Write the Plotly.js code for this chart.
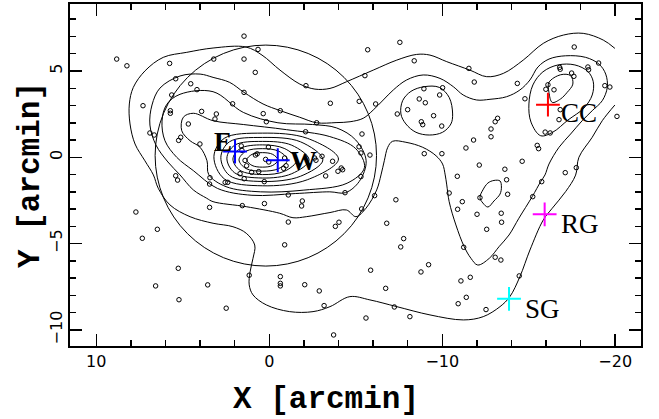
<!DOCTYPE html>
<html><head><meta charset="utf-8">
<script src="https://cdn.plot.ly/plotly-3.0.1.min.js"></script>
<style>html,body{margin:0;padding:0;background:#fff}</style>
</head><body>
<div id="chart" style="width:659px;height:419px"></div>
<script>
// galaxy positions [arcmin]
const galX = [8.82,8.23,5.76,5.41,4.54,4.18,5.64,7.30,5.72,5.72,3.91,4.68,6.90,6.65,5.12,5.24,4.01,5.41,5.30,3.43,3.45,7.71,6.47,7.34,3.45,5.26,6.57,3.56,5.22,2.49,1.16,-0.64,-0.64,-0.64,-2.05,-2.89,-3.17,1.56,0.28,-1.10,-0.89,-1.87,-1.91,2.55,2.40,0.29,-3.26,-1.10,-4.38,-4.03,-3.82,-3.72,
1.46,0.65,3.21,1.46,0.81,-2.12,1.46,-3.53,2.12,3.06,3.14,0.35,-0.64,0.17,-2.74,-2.10,
1.62,1.58,0.05,0.80,0.70,0.21,0.03,1.40,1.31,1.02,0.61,-0.89,-0.97,-0.83,-2.62,-2.70,-3.05,-3.66,-4.16,-4.24,-3.97,1.69,1.45,
-7.55,-5.69,-8.38,-5.53,-11.54,-11.85,-8.94,-10.02,-9.85,-8.67,-9.02,-8.00,-7.40,-9.50,-8.79,-8.87,-9.97,-5.20,-6.15,-5.36,-5.19,-5.30,-5.82,-8.96,-9.98,-12.82,-12.82,-11.81,-11.37,-12.14,-13.20,-13.06,
-17.63,-16.79,-16.82,-18.42,-18.46,-19.04,-17.48,-17.61,-14.34,-16.11,-15.99,-16.46,-19.40,-19.69,-14.78,-16.82,-16.75,-20.10,-15.95,-16.24,-15.49,-15.57,-14.62,-13.62,-17.75,-17.11,
-5.30,-10.87,-6.09,-5.34,-7.32,-10.40,-11.16,-10.89,-12.18,-12.01,-12.57,-6.79,-7.77,-7.60,-11.24,-13.06,-9.21,-8.77,-5.86,-11.08,-11.62,-6.73,-11.39,-10.92,-7.23,-5.59,-8.13,-12.53,-13.72,-13.78,-15.75,-15.23,-13.41,-13.43,-13.39,-14.45];
const galY = [5.69,5.30,5.44,4.55,4.26,3.92,3.61,2.99,2.70,2.55,2.66,1.93,1.41,1.29,1.16,0.98,0.77,-1.07,-1.32,-1.18,-1.55,-3.17,-4.17,-4.69,-2.90,-6.43,-7.45,-7.39,-8.25,-8.74,-6.83,-6.91,-7.30,-7.45,-7.38,-7.74,-8.59,-2.80,-2.68,-3.75,-5.07,-2.82,-2.53,-1.45,-1.45,-1.41,-1.08,-2.18,-2.05,-3.76,-4.00,-10.29,
7.02,6.25,5.69,5.69,4.92,4.15,3.76,3.13,3.10,2.51,2.22,2.53,2.70,2.06,2.00,1.48,
0.66,0.40,0.59,0.13,0.20,-0.12,-0.27,-0.18,-0.49,-0.87,-0.83,-0.04,-0.49,-0.64,-0.04,-0.17,0.06,-0.23,-0.62,-0.72,-0.81,-0.95,-1.24,
6.66,6.23,5.59,4.73,5.15,4.36,3.97,4.03,3.61,3.38,3.16,2.76,2.51,2.41,2.06,1.89,1.81,3.24,3.09,1.35,0.61,0.25,0.13,0.21,0.21,1.64,1.19,1.00,0.54,-0.45,2.26,2.06,
6.39,5.21,5.10,5.23,5.07,5.46,4.88,4.69,4.28,4.20,3.94,3.91,4.15,4.07,3.39,2.76,2.18,2.37,1.46,1.41,0.69,0.50,-0.23,-0.69,-0.60,-0.89,
-1.12,-1.10,-2.22,-2.99,-2.46,-2.07,-2.57,-3.01,-2.34,-3.30,-4.17,-3.82,-4.71,-5.19,-5.21,-5.79,-6.22,-6.64,-6.54,-7.16,-6.95,-7.59,-8.11,-8.48,-8.67,-9.31,-9.23,-8.82,-1.30,-2.14,-1.41,-2.28,-3.24,-3.76,-5.95,-6.87];

// marked positions
const markNames = ['E','W','CC','RG','SG'];
const markX = [1.98,-0.49,-16.11,-15.92,-13.86];
const markY = [0.33,-0.17,3.05,-3.30,-8.20];
const markColors = ['#0000ff','#0000ff','#ff0000','#ff00ff','#00ffff'];
const labelX = [2.69,-2.00,-17.90,-17.96,-15.78];
const labelY = [0.89,-0.19,2.57,-3.86,-8.78];

// circle
const circleCenter = [0.2, 0.1];
const circleRadius = 6.4;

// contour paths [x, y] in arcmin
const cOuter = [[-19.98,6.31],[-19.31,6.79],[-18.15,7.18],[-17.0,7.08],[-15.84,6.60],[-14.68,5.63],[-13.53,4.86],[-12.57,4.67],[-11.60,5.05],[-10.26,5.54],[-9.29,5.92],[-8.52,5.96],[-7.37,5.63],[-6.01,5.05],[-4.47,4.38],[-3.51,3.99],[-2.64,3.95],[-1.77,4.24],[-0.62,5.05],[0.42,5.92],[1.35,6.39],[3.25,6.33],[4.77,6.08],[6.13,5.79],[7.18,5.01],[7.86,4.05],[8.09,3.09],[8.05,1.93],[7.76,0.77],[7.19,-0.20],[6.70,-1.02],[6.42,-1.79],[5.74,-2.76],[4.58,-3.44],[3.25,-3.82],[2.10,-4.02],[1.33,-4.40],[0.84,-5.08],[0.94,-5.85],[1.11,-6.64],[1.16,-7.39],[0.94,-7.97],[0.17,-8.55],[-1.18,-8.94],[-2.53,-8.94],[-3.51,-8.65],[-4.66,-8.07],[-5.82,-8.26],[-7.37,-8.65],[-9.29,-9.13],[-11.22,-9.42],[-12.37,-9.23],[-13.34,-8.65],[-13.91,-8.07],[-14.49,-6.91],[-15.07,-5.37],[-15.84,-3.63],[-16.36,-2.95],[-17.13,-1.99],[-17.71,-1.03],[-17.90,0.0],[-18.67,1.16],[-19.25,2.12],[-19.98,3.03]];
const cLevel2 = [[3.25,4.63],[2.29,4.34],[1.46,3.76],[0.36,3.09],[-0.64,2.70],[-1.76,2.32],[-2.74,2.0],[-3.86,2.01],[-4.67,2.06],[-5.43,2.26],[-6.01,2.74],[-6.59,3.32],[-7.17,3.90],[-7.94,4.48],[-8.90,4.77],[-9.87,4.57],[-10.64,4.09],[-11.21,3.61],[-11.99,3.32],[-12.76,3.36],[-13.72,3.51],[-14.49,3.90],[-15.07,4.48],[-15.53,5.23],[-16.17,5.69],[-17.13,5.88],[-18.29,5.79],[-19.06,5.40],[-19.45,4.82],[-19.54,4.05],[-19.25,3.28],[-18.67,2.70],[-18.09,2.12],[-17.42,1.35],[-16.75,0.58],[-16.17,-0.39],[-15.94,-1.02],[-15.69,-1.41],[-15.20,-2.28],[-14.43,-3.53],[-13.86,-4.50],[-13.28,-5.18],[-12.72,-5.85],[-12.05,-6.24],[-11.66,-5.85],[-11.27,-5.18],[-10.79,-3.92],[-10.40,-2.57],[-10.26,-1.60],[-10.17,-1.02],[-10.02,-0.39],[-9.64,0.09],[-8.87,0.58],[-7.90,0.87],[-7.13,0.93],[-6.85,0.58],[-6.65,-0.20],[-6.46,-1.02],[-6.21,-1.89],[-5.59,-2.95],[-5.01,-3.44],[-4.46,-3.05],[-3.51,-3.20],[-2.14,-3.44],[-1.37,-3.50],[-0.60,-3.24],[1.33,-2.86],[3.25,-2.57],[3.62,-2.37],[4.39,-1.89],[5.16,-1.02],[5.86,-0.27],[6.55,0.71],[6.90,1.87],[6.78,3.03],[6.32,4.01],[5.16,4.71],[4.0,4.82],[3.25,4.63]];
const cLevel3 = [[3.25,3.80],[5.16,3.65],[5.93,3.06],[6.20,2.10],[6.03,0.96],[5.35,0.0],[4.39,-0.77],[3.0,-1.80],[1.0,-2.20],[-1.5,-2.10],[-3.5,-2.00],[-4.4,-2.05],[-5.2,-1.40],[-5.6,-0.20],[-5.0,1.00],[-3.9,1.70],[-2.5,1.90],[-0.5,2.00],[1.5,2.60],[3.25,3.80]];
const cLevel4 = [[3.25,2.12],[4.39,2.55],[4.97,2.32],[5.06,1.54],[4.58,0.96],[4.0,0.58],[3.6,-0.2],[3.5,-1.0],[2.5,-1.7],[0.5,-2.0],[-2.0,-1.9],[-4.5,-1.5],[-5.5,-0.6],[-5.0,0.5],[-3.5,1.2],[-1.0,1.6],[1.5,1.9],[3.25,2.12]];
const cCore1 = [[1.3,-0.15],[1.0,0.17],[0.4,0.27],[-0.2,0.17],[-0.5,-0.15],[-0.2,-0.47],[0.4,-0.57],[1.0,-0.47],[1.3,-0.15]];
const cCore2 = [[1.75,-0.15],[1.35,0.35],[0.4,0.5],[-0.55,0.35],[-1.05,-0.15],[-0.55,-0.65],[0.4,-0.8],[1.35,-0.65],[1.75,-0.15]];
const cCore3 = [[2.1,-0.1],[1.7,0.5],[0.4,0.72],[-0.9,0.5],[-1.6,-0.15],[-0.9,-0.8],[0.4,-1.0],[1.7,-0.75],[2.1,-0.1]];
const cCore4 = [[2.45,-0.05],[2.0,0.7],[0.4,0.92],[-1.3,0.7],[-2.3,-0.15],[-1.3,-0.95],[0.4,-1.2],[2.0,-0.9],[2.45,-0.05]];
const cCore5 = [[2.8,0.0],[2.3,0.9],[0.4,1.15],[-1.8,0.9],[-3.1,-0.15],[-1.8,-1.1],[0.4,-1.4],[2.3,-1.05],[2.8,0.0]];
const cCore6 = [[3.2,0.05],[2.6,1.1],[0.4,1.4],[-2.2,1.1],[-4.0,-0.1],[-2.2,-1.3],[0.4,-1.65],[2.6,-1.25],[3.2,0.05]];
const cCC1 = [[-16.17,4.34],[-16.84,4.78],[-17.42,4.73],[-17.55,4.24],[-17.22,3.76],[-16.84,3.38],[-16.36,3.18],[-16.17,3.76],[-16.17,4.34]];
const cCC2 = [[-15.69,1.25],[-15.13,2.04],[-15.01,3.09],[-15.24,4.19],[-15.82,4.95],[-16.69,5.35],[-17.67,5.35],[-18.42,4.97],[-18.73,4.38],[-18.67,3.61],[-18.19,2.85],[-17.27,2.16],[-16.40,1.46],[-15.69,1.25]];
const cMid = [[-7.71,3.28],[-8.19,3.82],[-8.96,4.09],[-9.83,4.05],[-10.40,3.47],[-10.60,2.51],[-10.50,1.93],[-10.02,1.45],[-9.25,1.29],[-8.48,1.45],[-7.90,1.93],[-7.61,2.51],[-7.71,3.28]];
const cSmall = [[-12.18,-2.33],[-12.35,-1.89],[-12.64,-1.49],[-12.99,-1.34],[-13.34,-1.37],[-13.42,-1.72],[-13.34,-2.13],[-12.99,-2.53],[-12.64,-2.88],[-12.35,-2.65],[-12.18,-2.33]];

const contours = [cOuter,cLevel2,cLevel3,cLevel4,cCore1,cCore2,cCore3,cCore4,cCore5,cCore6,cCC1,cCC2,cMid,cSmall];

const traces = contours.map(p => ({
  type:'scatter', mode:'lines', x:p.map(q=>q[0]), y:p.map(q=>q[1]),
  line:{color:'#000', width:1, shape:'spline', smoothing:1}, hoverinfo:'skip', showlegend:false
}));
traces.push({type:'scatter', mode:'markers', x:galX, y:galY,
  marker:{symbol:'circle-open', size:4.5, color:'#000', line:{width:1, color:'#000'}}, showlegend:false});
traces.push({type:'scatter', mode:'markers', x:markX, y:markY,
  marker:{symbol:'cross-thin-open', size:17, color:markColors, line:{width:2, color:markColors}}, showlegend:false});

const annotations = markNames.map((n,i)=>({
  x:labelX[i], y:labelY[i], xref:'x', yref:'y', text:n, showarrow:false,
  font:{family:'Liberation Serif', size:27, color:'#000', weight:(n==='E'||n==='W')?'bold':'normal'}
}));
const titleFont = {family:'Liberation Mono', size:31, color:'#000', weight:'bold'};
annotations.push({xref:'paper', yref:'paper', x:0.448, y:-0.155, xanchor:'center', yanchor:'middle',
  text:'X [arcmin]', showarrow:false, font:titleFont});
annotations.push({xref:'paper', yref:'paper', x:-0.070, y:0.5, xanchor:'center', yanchor:'middle',
  text:'Y [arcmin]', textangle:-90, showarrow:false, font:titleFont});

const axisCommon = {
  showgrid:false, zeroline:false, showline:true, linewidth:2, linecolor:'#000',
  mirror:'allticks', ticks:'inside', ticklen:12, tickwidth:1.5, tickcolor:'#000',
  tickfont:{family:'DejaVu Sans', size:16, color:'#000'}
};

const layout = {
  width:659, height:419,
  margin:{l:70, r:18, t:4, b:73},
  paper_bgcolor:'#fff', plot_bgcolor:'#fff',
  xaxis:Object.assign({}, axisCommon, {
    range:[11.52,-21.49], dtick:10, tick0:0,
    minor:{dtick:2, ticks:'inside', ticklen:6, tickwidth:1.5, tickcolor:'#000'}
  }),
  yaxis:Object.assign({}, axisCommon, {
    range:[-10.93,8.88], dtick:5, tick0:0, tickangle:-90,
    minor:{dtick:1, ticks:'inside', ticklen:6, tickwidth:1.5, tickcolor:'#000'}
  }),
  shapes:[{type:'circle', xref:'x', yref:'y',
    x0:circleCenter[0]+circleRadius, x1:circleCenter[0]-circleRadius,
    y0:circleCenter[1]-circleRadius, y1:circleCenter[1]+circleRadius,
    line:{color:'#000', width:1}}],
  annotations:annotations
};

Plotly.newPlot('chart', traces, layout, {staticPlot:true, displayModeBar:false});
</script>
</body></html>
